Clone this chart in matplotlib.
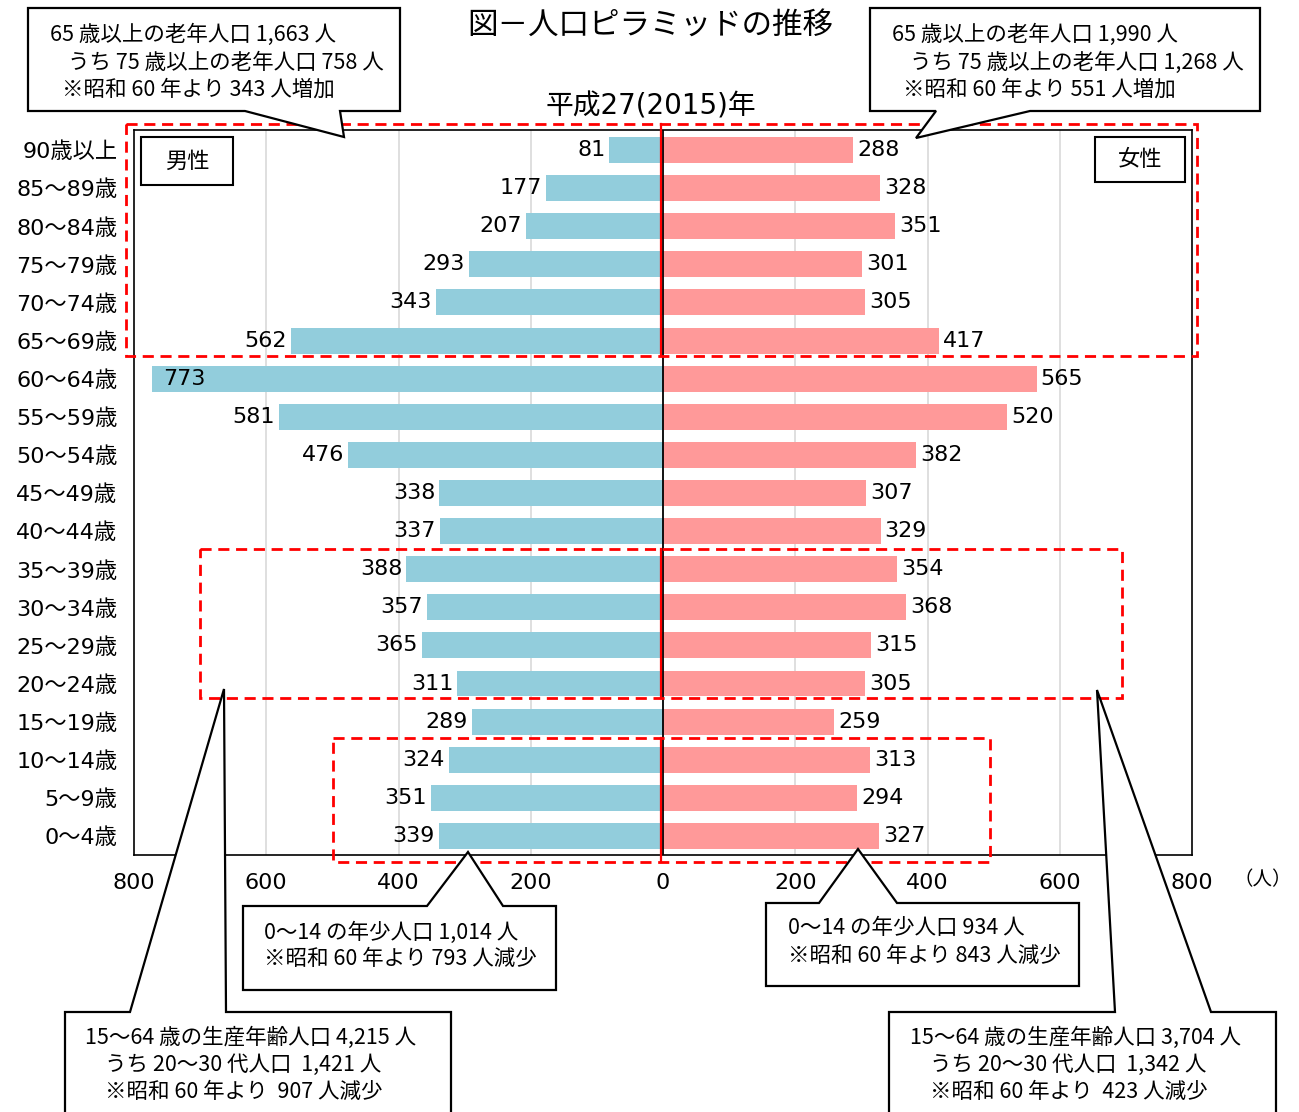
import matplotlib
matplotlib.use("Agg")
import matplotlib.pyplot as plt
from matplotlib.patches import Polygon, Rectangle
from matplotlib.lines import Line2D
from matplotlib.transforms import Affine2D

plt.rcParams['font.family'] = ['Noto Sans CJK JP', 'DejaVu Sans']
NUMFONT = ['DejaVu Sans', 'Noto Sans CJK JP']

# ---- data ----
ages = ["90歳以上", "85～89歳", "80～84歳", "75～79歳", "70～74歳", "65～69歳",
        "60～64歳", "55～59歳", "50～54歳", "45～49歳", "40～44歳", "35～39歳",
        "30～34歳", "25～29歳", "20～24歳", "15～19歳", "10～14歳", "5～9歳", "0～4歳"]
male = [81, 177, 207, 293, 343, 562, 773, 581, 476, 338, 337, 388, 357, 365, 311, 289, 324, 351, 339]
female = [288, 328, 351, 301, 305, 417, 565, 520, 382, 307, 329, 354, 368, 315, 305, 259, 313, 294, 327]
xticks = [-800, -600, -400, -200, 0, 200, 400, 600, 800]
xticklabels = ["800", "600", "400", "200", "0", "200", "400", "600", "800"]

title = "図－人口ピラミッドの推移"
subtitle = "平成27(2015)年"
callout_old_m = ["65 歳以上の老年人口 1,663 人", "うち 75 歳以上の老年人口 758 人", "※昭和 60 年より 343 人増加"]
callout_old_f = ["65 歳以上の老年人口 1,990 人", "うち 75 歳以上の老年人口 1,268 人", "※昭和 60 年より 551 人増加"]
callout_young_m = ["0～14 の年少人口 1,014 人", "※昭和 60 年より 793 人減少"]
callout_young_f = ["0～14 の年少人口 934 人", "※昭和 60 年より 843 人減少"]
callout_work_m = ["15～64 歳の生産年齢人口 4,215 人", "うち 20～30 代人口  1,421 人", "※昭和 60 年より  907 人減少"]
callout_work_f = ["15～64 歳の生産年齢人口 3,704 人", "うち 20～30 代人口  1,342 人", "※昭和 60 年より  423 人減少"]

BLUE = "#92CDDC"
PINK = "#FF9999"

W, H = 1299, 1112
fig = plt.figure(figsize=(W / 100, H / 100), dpi=100)
fig.patch.set_facecolor("white")
px = Affine2D().scale(1 / W, -1 / H).translate(0, 1) + fig.transFigure

ax_l, ax_r, ax_t, ax_b = 134, 1192, 130, 855
ax = fig.add_axes([ax_l / W, 1 - ax_b / H, (ax_r - ax_l) / W, (ax_b - ax_t) / H])

y = list(range(len(ages)))
ax.barh(y, [-v for v in male], height=0.68, color=BLUE, zorder=2)
ax.barh(y, female, height=0.68, color=PINK, zorder=2)
ax.set_xlim(-800, 800)
ax.set_ylim(18.5, -0.525)
ax.set_xticks(xticks)
ax.set_xticklabels(xticklabels, family=NUMFONT, fontsize=16)
ax.set_yticks(y)
ax.set_yticklabels(ages, family=NUMFONT, fontsize=16)
ax.tick_params(axis='both', length=0)
ax.tick_params(axis='x', pad=13)
ax.tick_params(axis='y', pad=12)
for s in ax.spines.values():
    s.set_linewidth(1.2)
    s.set_color("black")
for xv in [-600, -400, -200, 200, 400, 600]:
    ax.axvline(xv, color="#d9d9d9", lw=1.2, zorder=1)
ax.axvline(0, color="black", lw=1.3, zorder=3)

for i, (m, f) in enumerate(zip(male, female)):
    if m > 700:
        ax.annotate(str(m), (-m, i), xytext=(8, 0), textcoords="offset points",
                    ha="left", va="center", fontsize=16, family=NUMFONT, zorder=4)
    else:
        ax.annotate(str(m), (-m, i), xytext=(-3, 0), textcoords="offset points",
                    ha="right", va="center", fontsize=16, family=NUMFONT, zorder=4)
    ax.annotate(str(f), (f, i), xytext=(3, 0), textcoords="offset points",
                ha="left", va="center", fontsize=16, family=NUMFONT, zorder=4)

# unit label
fig.text(1263, 880, "（人）", transform=px, ha="center", va="center", fontsize=14)

# titles
fig.text(650, 25, title, transform=px, ha="center", va="center", fontsize=22)
fig.text(651, 106, subtitle, transform=px, ha="center", va="center", fontsize=20,
         family=NUMFONT)

# male / female boxes
for (x0, y0, x1, y1, s) in [(141, 137, 233, 185, "男性"), (1095, 137, 1185, 182, "女性")]:
    fig.add_artist(Rectangle((x0, y0), x1 - x0, y1 - y0, transform=px, fill=True,
                             facecolor="white", edgecolor="black", lw=1.5, zorder=5))
    fig.text((x0 + x1) / 2, (y0 + y1) / 2, s, transform=px, ha="center", va="center",
             fontsize=16, zorder=6)

# red dashed groupings
for (x0, y0, x1, y1) in [(126, 124, 1197, 356), (200, 549, 1122, 698), (333, 738, 990, 862)]:
    fig.add_artist(Rectangle((x0, y0), x1 - x0, y1 - y0, transform=px, fill=False,
                             edgecolor="#FF0000", lw=2, linestyle=(0, (4, 2.4)), zorder=7))
    fig.add_artist(Line2D([661, 661], [y0, y1], transform=px, color="#FF0000", lw=1.6, zorder=7))

# callouts
callouts = [
    ([(28, 8), (400, 8), (400, 111), (340, 111), (344, 137), (245, 111), (28, 111)],
     callout_old_m, [(50, 35), (68, 63), (62, 90)]),
    ([(870, 8), (1260, 8), (1260, 111), (1030, 111), (916, 138), (936, 111), (870, 111)],
     callout_old_f, [(892, 35), (910, 63), (903, 90)]),
    ([(243, 906), (427, 906), (468, 852), (503, 906), (556, 906), (556, 990), (243, 990)],
     callout_young_m, [(264, 933), (264, 959)]),
    ([(766, 903), (819, 903), (858, 849), (897, 903), (1079, 903), (1079, 986), (766, 986)],
     callout_young_f, [(788, 928), (788, 956)]),
    ([(65, 1012), (130, 1012), (224, 689), (226, 1012), (451, 1012), (451, 1130), (65, 1130)],
     callout_work_m, [(85, 1038), (105, 1065), (105, 1092)]),
    ([(889, 1012), (1115, 1012), (1097, 690), (1211, 1012), (1276, 1012), (1276, 1130), (889, 1130)],
     callout_work_f, [(910, 1038), (930, 1065), (930, 1092)]),
]
for pts, lines, pos in callouts:
    fig.add_artist(Polygon(pts, closed=True, transform=px, facecolor="white",
                           edgecolor="black", lw=1.6, zorder=8))
    for s, (tx, ty) in zip(lines, pos):
        fig.text(tx, ty, s, transform=px, ha="left", va="center", fontsize=15.5, zorder=9)

fig.savefig("out.png", dpi=100)
